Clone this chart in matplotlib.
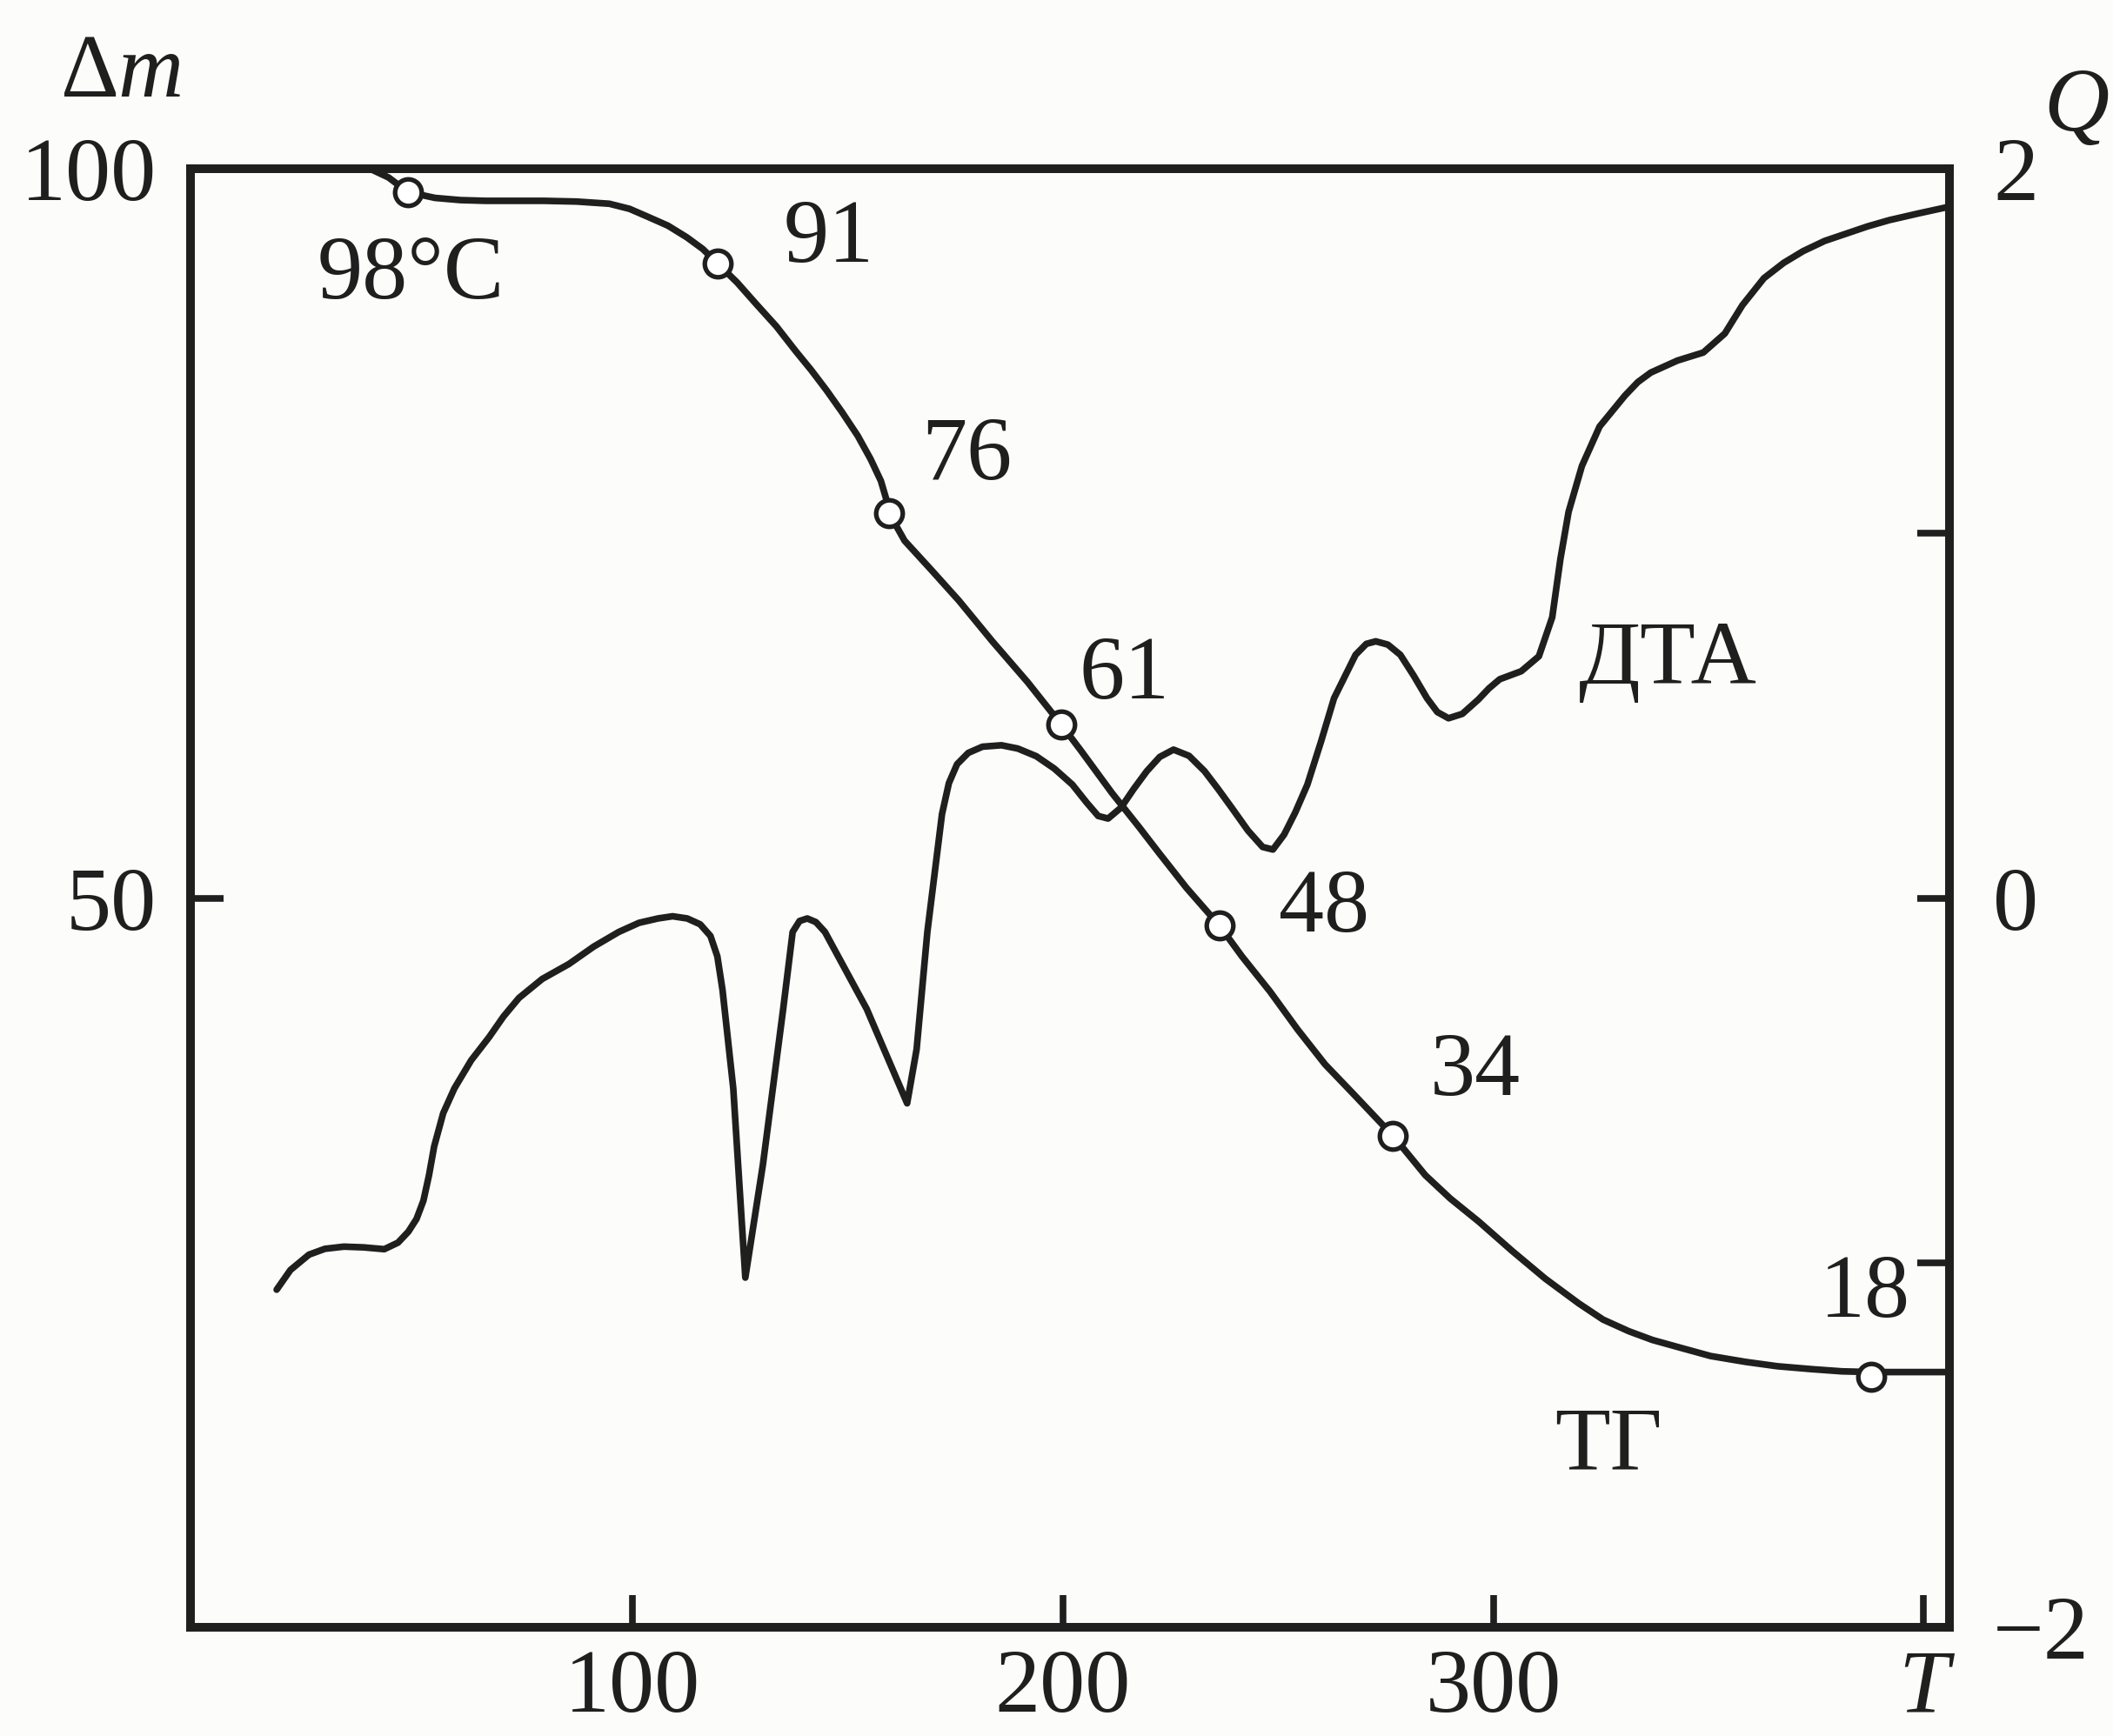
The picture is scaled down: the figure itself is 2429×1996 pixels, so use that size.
import matplotlib
matplotlib.use("Agg")
from matplotlib import pyplot as plt

plt.rcParams['font.family'] = ['Liberation Serif', 'DejaVu Serif']
plt.rcParams['mathtext.fontset'] = 'custom'
plt.rcParams['mathtext.rm'] = 'Liberation Serif'
plt.rcParams['mathtext.it'] = 'Liberation Serif:italic'

# TG curve: temperature T and mass Δm (left axis)
tg_t = [39.7, 43.3, 47.8, 54.1, 60.0, 65.9, 72.6, 79.4, 87.0, 94.6, 99.3,
        103.6, 108.2, 112.6, 116.3, 119.8, 124.3, 128.8, 133.4, 137.9, 141.5,
        145.1, 148.7, 152.3, 155.3, 157.7, 159.5, 161.3, 163.2, 169.4, 175.8,
        183.6, 191.8, 199.6, 204.2, 211.4, 217.6, 222.3, 228.7, 236.4, 241.6,
        248.1, 254.5, 260.9, 267.4, 276.7, 284.2, 290.0, 296.7, 304.4, 312.1,
        319.9, 325.5, 331.5, 337.0, 343.1, 350.5, 358.6, 366.0, 374.0, 381.0,
        387.9, 396.0, 405.8]
tg_m = [99.9, 99.4, 98.4, 98.0, 97.85, 97.8, 97.8, 97.8, 97.75, 97.6, 97.25,
        96.7, 96.1, 95.3, 94.5, 93.5, 92.2, 90.7, 89.2, 87.5, 86.2,
        84.8, 83.3, 81.7, 80.1, 78.6, 76.8, 75.5, 74.5, 72.5, 70.4,
        67.6, 64.8, 61.9, 60.1, 57.2, 54.9, 53.1, 50.7, 48.1, 46.0,
        43.6, 41.0, 38.6, 36.6, 33.7, 31.0, 29.4, 27.8, 25.8, 23.9,
        22.2, 21.1, 20.3, 19.7, 19.2, 18.6, 18.2, 17.9, 17.7, 17.55,
        17.5, 17.5, 17.5]

# marked points on TG and their labels
pt_t = [47.8, 119.8, 159.5, 199.6, 236.4, 276.7, 387.9]
pt_m = [98.4, 93.5, 76.4, 61.9, 48.1, 33.7, 17.2]
pt_labels = ['98°C', '91', '76', '61', '48', '34', '18']
lab_t = [48.5, 145.5, 177.7, 214.3, 260.6, 295.8, 386.4]
lab_m = [92.6, 95.1, 80.2, 65.2, 49.2, 38.0, 22.8]

# DTA curve: temperature T and heat effect Q (right axis)
dta_t = [17.3, 20.5, 24.8, 28.5, 32.9, 37.5, 42.3, 45.5, 47.9, 49.8, 51.4,
         52.7, 53.9, 56.0, 58.6, 62.5, 66.7, 70.0, 73.6, 79.0, 85.2,
         91.0, 96.8, 101.5, 105.9, 109.3, 112.7, 115.7, 118.1, 119.7, 120.9,
         123.4, 126.2, 130.3, 135.0, 137.2, 138.8, 140.6, 142.6, 144.7, 154.4,
         163.8, 166.0, 168.5, 171.9, 173.5, 175.4, 178.0, 181.3, 185.7, 189.5,
         193.8, 198.0, 202.2, 205.5, 208.2, 210.5, 213.5, 216.5, 219.5, 222.5,
         225.7, 229.3, 232.9, 236.0, 239.2, 243.0, 246.4, 248.8, 251.4, 254.0,
         256.8, 260.0, 263.0, 268.0, 270.5, 272.7, 275.5, 278.4, 281.5, 284.6,
         287.0, 289.6, 292.8, 296.5, 299.0, 301.5, 306.5, 310.6, 313.7, 315.6,
         317.5, 320.6, 324.7, 330.6, 333.6, 336.6, 342.8, 348.8, 353.8, 357.9,
         362.9, 367.5, 372.0, 377.0, 382.0, 387.0, 392.0, 399.0, 406.0]
dta_q = [-1.074, -1.020, -0.978, -0.962, -0.956, -0.958, -0.963, -0.945, -0.915, -0.880, -0.830,
         -0.760, -0.681, -0.590, -0.522, -0.445, -0.381, -0.325, -0.274, -0.222, -0.181,
         -0.133, -0.093, -0.068, -0.056, -0.050, -0.056, -0.072, -0.104, -0.160, -0.252,
         -0.522, -1.041, -0.730, -0.304, -0.093, -0.063, -0.056, -0.066, -0.093, -0.304,
         -0.563, -0.415, -0.093, 0.230, 0.315, 0.367, 0.398, 0.415, 0.419, 0.410,
         0.389, 0.355, 0.311, 0.262, 0.225, 0.218, 0.248, 0.300, 0.348, 0.387,
         0.407, 0.390, 0.348, 0.300, 0.248, 0.185, 0.140, 0.133, 0.174, 0.235,
         0.311, 0.430, 0.548, 0.667, 0.697, 0.704, 0.695, 0.667, 0.610, 0.548,
         0.510, 0.493, 0.505, 0.544, 0.575, 0.600, 0.622, 0.663, 0.770, 0.930,
         1.059, 1.185, 1.293, 1.378, 1.415, 1.441, 1.474, 1.496, 1.548, 1.626,
         1.700, 1.742, 1.774, 1.802, 1.822, 1.842, 1.859, 1.878, 1.896]

x_ticks = [100, 200, 300, 400]
x_labels = ['100', '200', '300', 'T']
left_ticks = [50, 100]
right_ticks = [-2, -1, 0, 1, 2]
right_labels = ['\u22122', '', '0', '', '2']

ink = '#1f1f1f'
fs = 75

fig = plt.figure(figsize=(24.29, 19.96), dpi=100, facecolor='#fcfcfa')
ax = fig.add_axes([0.0902, 0.0626, 0.8324, 0.8402])
ax.set_facecolor('none')
ax2 = ax.twinx()

ax.plot(tg_t, tg_m, color=ink, lw=5.5, solid_joinstyle='round', solid_capstyle='round')
ax.plot(pt_t, pt_m, 'o', ms=22, mfc='white', mec=ink, mew=3.8, zorder=5)
for t, m, s in zip(lab_t, lab_m, pt_labels):
    ax.text(t, m, s, fontsize=fs, color=ink, ha='center', va='center')
ax.text(340.5, 66.2, 'ДТА', fontsize=fs, color=ink, ha='center', va='center')
ax.text(326.7, 12.3, 'ТГ', fontsize=fs, color=ink, ha='center', va='center')

ax2.plot(dta_t, dta_q, color=ink, lw=5.5, solid_joinstyle='round', solid_capstyle='round')

ax.set_xlim(-2.7, 406)
ax.set_ylim(0, 100)
ax2.set_ylim(-2, 2)

ax.set_xticks(x_ticks, x_labels)
ax.get_xticklabels()[3].set_style('italic')
ax.set_yticks(left_ticks, ['50', '100'])
ax2.set_yticks(right_ticks, right_labels)

ax.tick_params(axis='x', direction='in', length=27, width=5.5, labelsize=fs,
               pad=18, colors=ink)
ax.tick_params(axis='y', direction='in', length=27, width=5.5, labelsize=fs,
               pad=28, colors=ink)
ax2.tick_params(axis='y', direction='in', length=27, width=5.5, labelsize=fs,
                pad=36, colors=ink)

for a in (ax, ax2):
    for sp in a.spines.values():
        sp.set_linewidth(7)
        sp.set_color(ink)

fig.text(0.057, 0.957, r'$\Delta m$', fontsize=fs, color=ink, ha='center', va='center')
fig.text(0.9826, 0.9374, 'Q', fontsize=fs, color=ink, style='italic',
         ha='center', va='center')

fig.savefig('out.png', dpi=100, facecolor=fig.get_facecolor())
